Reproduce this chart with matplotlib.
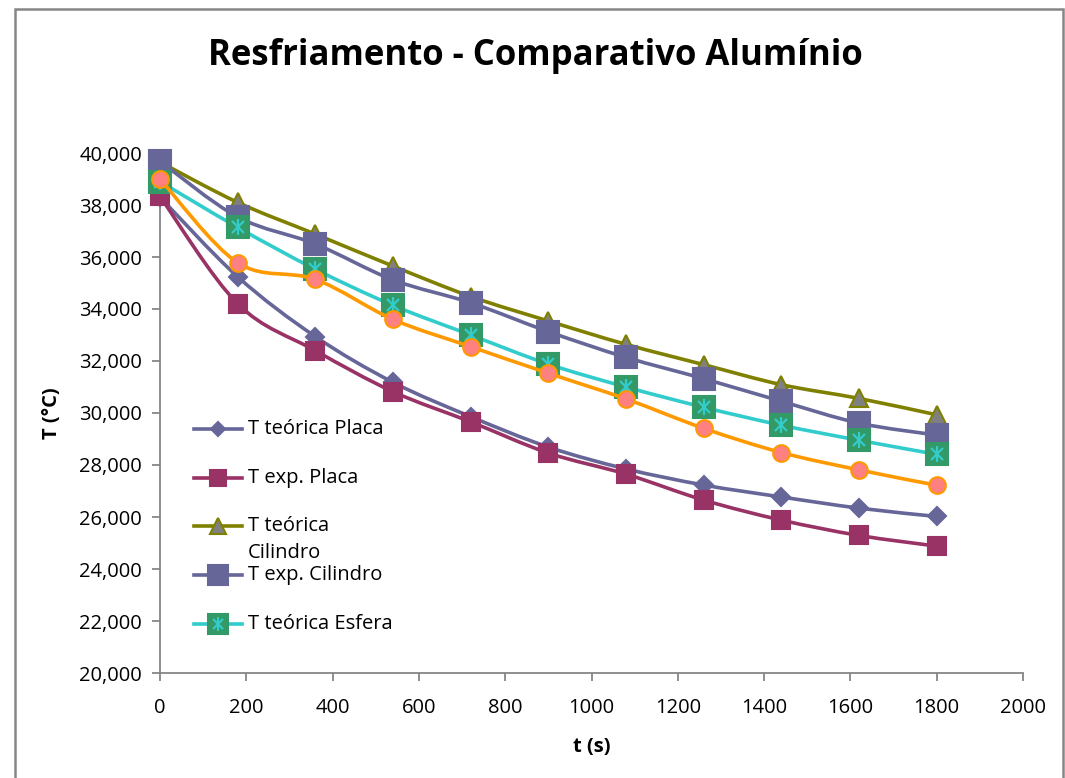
import numpy as np
import matplotlib
matplotlib.use("Agg")
import matplotlib.pyplot as plt
from matplotlib.path import Path
from matplotlib.patches import PathPatch, Rectangle
from matplotlib.ticker import FuncFormatter, MultipleLocator

plt.rcParams['font.family'] = ['Open Sans', 'DejaVu Sans']

# dados
tempo = [0, 180, 360, 540, 720, 900, 1080, 1260, 1440, 1620, 1800]
placa_teo = [38300, 35240, 32940, 31180, 29860, 28690, 27850, 27230, 26770, 26340, 26020]
placa_exp = [38330, 34200, 32400, 30820, 29660, 28460, 27650, 26650, 25880, 25290, 24880]
cil_teo = [39650, 38100, 36880, 35650, 34480, 33540, 32640, 31860, 31090, 30560, 29930]
cil_exp = [39680, 37540, 36500, 35120, 34240, 33130, 32140, 31320, 30450, 29610, 29150]
esf_teo = [38900, 37140, 35530, 34140, 33000, 31880, 31000, 30220, 29530, 28950, 28410]
esf_exp = [39000, 35780, 35140, 33600, 32550, 31530, 30540, 29410, 28480, 27810, 27220]

labels = ['T teórica Placa', 'T exp. Placa', 'T teórica\nCilindro',
          'T exp. Cilindro', 'T teórica Esfera', 'T exp. Esfera']

estilos = [
    dict(line='#666699', marker='D', ms=9.0, face='#666699', edge='#666699'),
    dict(line='#993366', marker='s', ms=12.5, face='#993366', edge='#993366'),
    dict(line='#808000', marker='^', ms=12.5, face='#808080', edge='#808000'),
    dict(line='#666699', marker='s', ms=16.5, face='#666699', edge='#666699'),
    dict(line='#33CCCC', marker='s', ms=16.5, face='#339966', edge='#339966'),
    dict(line='#FF9900', marker='o', ms=12.0, face='#FF8080', edge='#FF9900'),
]

fs = 14.5


def smooth_path(x, y):
    """Curva suavizada estilo Excel (Bezier / Catmull-Rom) passando pelos pontos."""
    pts = np.column_stack([x, y]).astype(float)
    n = len(pts)
    verts = [pts[0]]
    codes = [Path.MOVETO]
    for i in range(n - 1):
        p_prev = pts[i - 1] if i > 0 else pts[i]
        p_next2 = pts[i + 2] if i + 2 < n else pts[i + 1]
        c1 = pts[i] + (pts[i + 1] - p_prev) / 6
        c2 = pts[i + 1] - (p_next2 - pts[i]) / 6
        verts += [c1, c2, pts[i + 1]]
        codes += [Path.CURVE4] * 3
    return Path(verts, codes)


fig = plt.figure(figsize=(10.65, 7.78), dpi=100)
ax = fig.add_axes([160 / 1065, 1 - 673 / 778, 863 / 1065, 520 / 778])

series = [placa_teo, placa_exp, cil_teo, cil_exp, esf_teo, esf_exp]
for k, (vals, st) in enumerate(zip(series, estilos)):
    z = 3 + k
    ax.add_patch(PathPatch(smooth_path(tempo, vals), fill=False, edgecolor=st['line'],
                           lw=2.6, zorder=z, capstyle='round', joinstyle='round'))
    ax.plot(tempo, vals, ls='none', marker=st['marker'], ms=st['ms'],
            mfc=st['face'], mec=st['edge'], mew=1.5, zorder=z, clip_on=False)
    if k == 4:
        # asterisco dentro do quadrado (marcador "estrela" do Excel)
        ax.plot(tempo, vals, ls='none', marker='x', ms=9, mec='#33CCCC', mew=1.6,
                zorder=z, clip_on=False)
        ax.plot(tempo, vals, ls='none', marker='|', ms=12, mec='#33CCCC', mew=1.6,
                zorder=z, clip_on=False)

ax.set_xlim(0, 2000)
ax.set_ylim(20000, 40000)
ax.xaxis.set_major_locator(MultipleLocator(200))
ax.yaxis.set_major_locator(MultipleLocator(2000))
ax.yaxis.set_major_formatter(FuncFormatter(lambda v, p: f'{v:,.0f}'))

for s in ['top', 'right']:
    ax.spines[s].set_visible(False)
for s in ['left', 'bottom']:
    ax.spines[s].set_color('#868686')
    ax.spines[s].set_linewidth(1.3)
ax.tick_params(axis='both', colors='#868686', length=6, width=1.3, labelsize=fs,
               labelcolor='black')
ax.tick_params(axis='y', pad=7)
ax.tick_params(axis='x', pad=12)

ax.set_xlabel('t (s)', fontsize=fs, fontweight='bold', labelpad=14)
ax.set_ylabel('T (°C)', fontsize=fs, fontweight='bold', labelpad=12)

fig.text(0.503, 1 - 56 / 778, 'Resfriamento - Comparativo Alumínio', ha='center',
         va='center', fontsize=25, fontweight='bold')

# legenda manual (Excel mostra só as 5 primeiras, com quebra de linha)
leg_x0, leg_x1, leg_tx = 0.039, 0.095, 0.102
leg_top, leg_step = 0.469, 0.0935
for k in range(5):
    st = estilos[k]
    yy = leg_top - k * leg_step
    ax.plot([leg_x0, leg_x1], [yy, yy], transform=ax.transAxes, color=st['line'], lw=2.6,
            zorder=10)
    ms = st['ms'] * (0.75 if k == 0 else 0.9)
    ax.plot([(leg_x0 + leg_x1) / 2], [yy], transform=ax.transAxes, marker=st['marker'],
            ms=ms, mfc=st['face'], mec=st['edge'], mew=1.5, zorder=10)
    if k == 4:
        ax.plot([(leg_x0 + leg_x1) / 2], [yy], transform=ax.transAxes, marker='x', ms=7,
                mec='#33CCCC', mew=1.5, zorder=10)
        ax.plot([(leg_x0 + leg_x1) / 2], [yy], transform=ax.transAxes, marker='|', ms=10,
                mec='#33CCCC', mew=1.5, zorder=10)
    for j, linha in enumerate(labels[k].split('\n')):
        ax.text(leg_tx, yy - j * 0.052, linha, transform=ax.transAxes, va='center',
                fontsize=fs, zorder=10)

# borda da área do gráfico
fig.add_artist(Rectangle((15 / 1065, -0.05), (1063 - 15) / 1065, 1 - 9 / 778 + 0.05,
                         transform=fig.transFigure, fill=False, edgecolor='#868686', lw=1.8))

fig.savefig('out.png', dpi=100)
